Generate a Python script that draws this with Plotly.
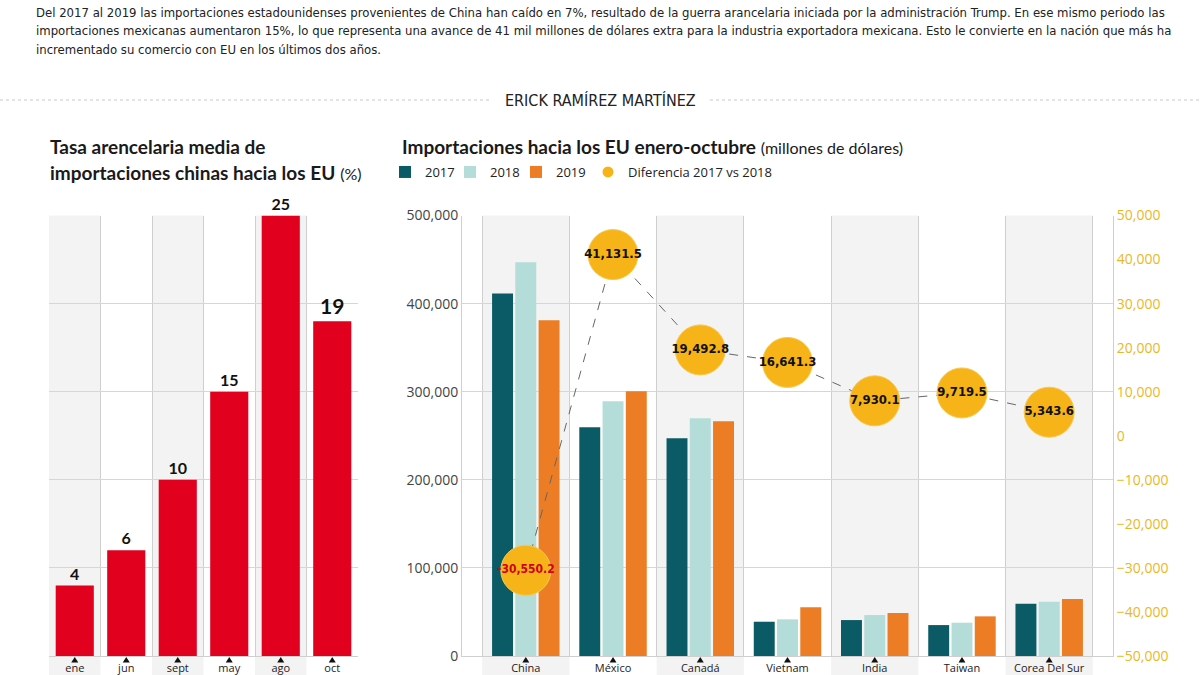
import plotly.graph_objects as go

# ---------------- data ----------------
months = ["ene", "jun", "sept", "may", "ago", "oct"]
tariff = [4, 6, 10, 15, 25, 19]

countries = ["China", "México", "Canadá", "Vietnam", "India", "Taiwan", "Corea Del Sur"]
imp_2017 = [411600, 259700, 247200, 38900, 40800, 35100, 59300]
imp_2018 = [446800, 289200, 269900, 41600, 46500, 37800, 61600]
imp_2019 = [381000, 300500, 266500, 55200, 48800, 45000, 64600]
diferencia = [-30550.2, 41131.5, 19492.8, 16641.3, 7930.1, 9719.5, 5343.6]

# ---------------- styles ----------------
W, H = 1200, 675
RED = "#e2001f"
C17, C18, C19 = "#0b5b66", "#b4dcd9", "#ec7d24"
GOLD = "#f6b418"
GOLD_TXT = "#e9b824"
NARROW = "DejaVu Sans Condensed, sans-serif"
TITLEF = "Lato, Roboto, sans-serif"
AXF = "Open Sans, sans-serif"

def px_x(x):
    return x / W

def px_y(y):
    return 1 - y / H

left_dom_x = [px_x(49), px_x(358)]
right_dom_x = [px_x(462), px_x(1113)]
dom_y = [px_y(656), px_y(215.5)]

fig = go.Figure()

# left chart: tariff bars
fig.add_trace(go.Bar(
    x=months, y=tariff, xaxis="x", yaxis="y",
    marker=dict(color=RED, line=dict(width=0)),
    width=0.74,
    text=[str(v) for v in tariff], textposition="outside",
    textfont=dict(family=TITLEF, size=[16, 16, 16, 16, 16, 21], color="#111", weight="bold"),
    cliponaxis=False, showlegend=False, hoverinfo="skip",
))

# right chart: imports (each legend entry gets its own positioned legend)
for name, vals, col, leg in [("2017", imp_2017, C17, "legend"),
                             ("2018", imp_2018, C18, "legend2"),
                             ("2019", imp_2019, C19, "legend3")]:
    fig.add_trace(go.Bar(
        x=countries, y=vals, name=name, xaxis="x2", yaxis="y2",
        marker=dict(color=col, line=dict(width=0)),
        legend=leg, showlegend=True, hoverinfo="skip",
    ))

# bubbles
fig.add_trace(go.Scatter(
    x=countries, y=diferencia, xaxis="x2", yaxis="y3",
    mode="lines+markers+text",
    line=dict(color="#666", width=1, dash="dash"),
    marker=dict(size=50, color=GOLD, line=dict(color="#f9c84a", width=1)),
    text=[f"{v:,.1f}" for v in diferencia], textposition="middle center",
    textfont=dict(family=NARROW, size=[12, 13, 13, 13, 13, 13, 13], weight="bold",
                  color=["#d0021b" if v < 0 else "#111" for v in diferencia]),
    cliponaxis=False, showlegend=False, hoverinfo="skip",
))
# legend-only entry for the bubbles
fig.add_trace(go.Scatter(
    x=[None], y=[None], xaxis="x2", yaxis="y3", mode="markers",
    name="Diferencia 2017 vs 2018", legend="legend4",
    marker=dict(size=11, color=GOLD), showlegend=True,
))

# ---------------- shapes ----------------
shapes = []
for i in range(len(months)):
    if i % 2 == 0:
        shapes.append(dict(type="rect", xref="x", yref="paper", x0=i - 0.5, x1=i + 0.5,
                           y0=0, y1=dom_y[1], fillcolor="#f3f3f3", line=dict(width=0), layer="below"))
for i in range(len(countries)):
    if i % 2 == 0:
        shapes.append(dict(type="rect", xref="x2", yref="paper", x0=i - 0.5, x1=i + 0.5,
                           y0=0, y1=dom_y[1], fillcolor="#f3f3f3", line=dict(width=0), layer="below"))
# separator dotted lines
shapes.append(dict(type="line", xref="paper", yref="paper", x0=0, x1=px_x(492), y0=px_y(100), y1=px_y(100),
                   line=dict(color="#c8c8c8", width=1, dash="dot")))
shapes.append(dict(type="line", xref="paper", yref="paper", x0=px_x(710), x1=1, y0=px_y(100), y1=px_y(100),
                   line=dict(color="#c8c8c8", width=1, dash="dot")))
# small triangles above each category label (pixel-sized, anchored on the category)
for ax, cats in [("x", months), ("x2", countries)]:
    for c in cats:
        shapes.append(dict(type="path", xref=ax, yref="paper", xsizemode="pixel", ysizemode="pixel",
                           xanchor=c, yanchor=px_y(662.5), path="M-3.5,0 L3.5,0 L0,5.5 Z",
                           fillcolor="#111", line=dict(width=0)))

# ---------------- annotations ----------------
header = [
    "Del 2017 al 2019 las importaciones estadounidenses provenientes de China han caído en 7%, resultado de la guerra arancelaria iniciada por la administración Trump. En ese mismo periodo las",
    "importaciones mexicanas aumentaron 15%, lo que representa una avance de 41 mil millones de dólares extra para la industria exportadora mexicana. Esto le convierte en la nación que más ha",
    "incrementado su comercio con EU en los últimos dos años.",
]
ann = []
for k, line in enumerate(header):
    ann.append(dict(text=line, x=px_x(34), y=px_y(12 + 18.7 * k), xref="paper", yref="paper",
                    xanchor="left", yanchor="middle", showarrow=False,
                    font=dict(family=NARROW, size=13, color="#222")))
ann.append(dict(text="ERICK RAMÍREZ MARTÍNEZ", x=0.5, y=px_y(100), xref="paper", yref="paper",
                xanchor="center", yanchor="middle", showarrow=False,
                font=dict(family=NARROW, size=16, color="#222")))
ann.append(dict(text="<b>Tasa arencelaria media de</b>", x=px_x(48), y=px_y(146), xref="paper", yref="paper",
                xanchor="left", yanchor="middle", showarrow=False,
                font=dict(family=TITLEF, size=19, color="#1a1a1a")))
ann.append(dict(text="<b>importaciones chinas hacia los EU</b> <span style='font-size:16px'>(%)</span>",
                x=px_x(48), y=px_y(172), xref="paper", yref="paper",
                xanchor="left", yanchor="middle", showarrow=False,
                font=dict(family=TITLEF, size=19, color="#1a1a1a")))
ann.append(dict(text="<b>Importaciones hacia los EU enero-octubre</b> <span style='font-size:16px'>(millones de dólares)</span>",
                x=px_x(400), y=px_y(146), xref="paper", yref="paper",
                xanchor="left", yanchor="middle", showarrow=False,
                font=dict(family=TITLEF, size=19, color="#1a1a1a")))

def leg(xpx):
    return dict(orientation="h", x=px_x(xpx), y=px_y(172), xanchor="left", yanchor="middle",
                font=dict(family=AXF, size=13, color="#222"), bgcolor="rgba(0,0,0,0)",
                itemclick=False, itemdoubleclick=False)

fig.update_layout(
    width=W, height=H,
    margin=dict(l=0, r=0, t=0, b=0, autoexpand=False),
    paper_bgcolor="white", plot_bgcolor="rgba(0,0,0,0)",
    barmode="group", bargap=0.2, bargroupgap=0.1,
    shapes=shapes, annotations=ann,
    legend=leg(385), legend2=leg(450), legend3=leg(516), legend4=leg(588),
    xaxis=dict(domain=left_dom_x, anchor="y", type="category", tickson="boundaries",
               showgrid=True, gridcolor="#cfcfcf", gridwidth=1, ticks="", tickangle=0,
               automargin=False, ticklabelstandoff=2,
               tickfont=dict(family=AXF, size=11, color="#222"),
               showline=True, linecolor="#cfcfcf", fixedrange=True),
    yaxis=dict(domain=dom_y, anchor="x", range=[0, 25], dtick=5, showticklabels=False,
               showgrid=True, gridcolor="#d6d6d6", zeroline=False, ticks="", automargin=False),
    xaxis2=dict(domain=right_dom_x, anchor="y2", type="category", tickson="boundaries",
                showgrid=True, gridcolor="#cfcfcf", gridwidth=1, ticks="", tickangle=0,
                automargin=False, ticklabelstandoff=2,
                tickfont=dict(family=AXF, size=11, color="#222"),
                showline=True, linecolor="#cfcfcf"),
    yaxis2=dict(domain=dom_y, anchor="x2", range=[0, 500000], dtick=100000, tickformat=",",
                showgrid=True, gridcolor="#d6d6d6", zeroline=False, ticks="", automargin=False,
                showline=True, linecolor="#cfcfcf",
                tickfont=dict(family=AXF, size=14, color="#444")),
    yaxis3=dict(overlaying="y2", anchor="x2", side="right", range=[-50000, 50000], dtick=10000,
                tickformat=",", showgrid=False, zeroline=False, ticks="", automargin=False,
                showline=True, linecolor="#cfcfcf",
                tickfont=dict(family=AXF, size=14, color=GOLD_TXT)),
)

fig.write_html("out.html")
